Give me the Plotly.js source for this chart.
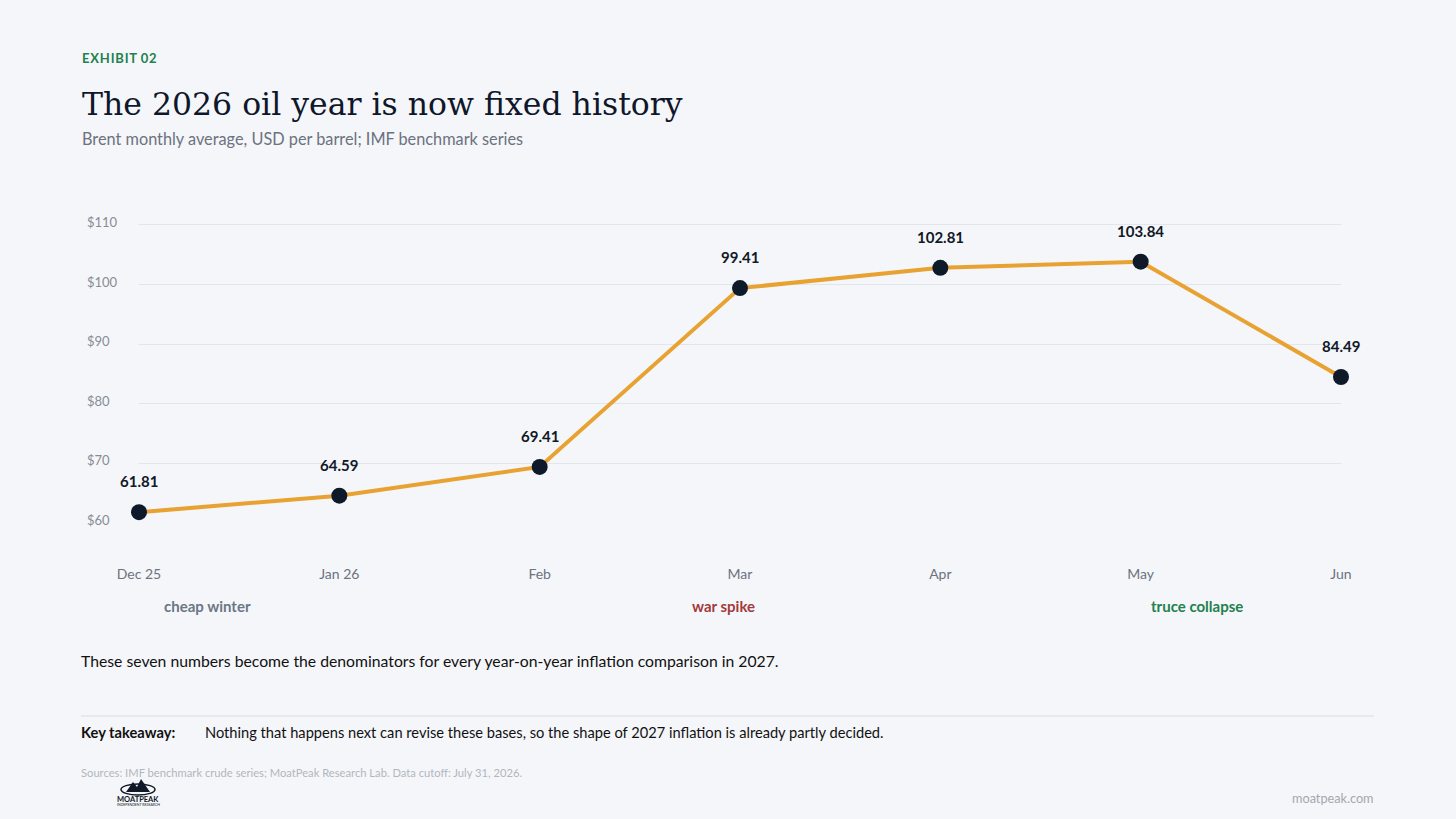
<!DOCTYPE html>
<html>
<head>
<meta charset="utf-8">
<script src="https://cdn.plot.ly/plotly-3.0.1.min.js"></script>
<style>
  html, body { margin: 0; padding: 0; background: #f5f6f9; }
  #chart { width: 1456px; height: 819px; }
</style>
</head>
<body>
<div id="chart"></div>
<script>
// Brent monthly averages, USD per barrel
const months = ["Dec 25", "Jan 26", "Feb", "Mar", "Apr", "May", "Jun"];
const brent = [61.81, 64.59, 69.41, 99.41, 102.81, 103.84, 84.49];
const yTicks = [60, 70, 80, 90, 100, 110];

// Phase labels under the axis: text, position along the month axis, colour
const phaseText = ["cheap winter", "war spike", "truce collapse"];
const phaseAt = [0.34, 2.92, 5.28];
const phaseColor = ["#6b7785", "#a23b3b", "#23804f"];

const W = 1456, H = 819;
const M = { l: 139, r: 115, t: 222, b: 296 };
const PW = W - M.l - M.r, PH = H - M.t - M.b;
// pixel helpers for page furniture placed around the plot
const px = v => (v - M.l) / PW;
const py = v => (H - M.b - v) / PH;

const SANS = "Lato, 'Open Sans', sans-serif";
const SERIF = "'DejaVu Serif', 'Liberation Serif', serif";

const trace = {
  type: "scatter",
  mode: "lines+markers",
  x: months.map((_, i) => i),
  y: brent,
  line: { color: "#e8a232", width: 4 },
  marker: { color: "#0e1a2a", size: 16 },
  cliponaxis: false,
  hoverinfo: "skip"
};

const annotations = [];

// value labels above each point
brent.forEach((v, i) => {
  annotations.push({
    x: i, y: v, xref: "x", yref: "y",
    text: v.toFixed(2), showarrow: false,
    yshift: 31, xanchor: "center", yanchor: "middle",
    font: { family: SANS, size: 15, color: "#111827", weight: 700 }
  });
});

// left-aligned y tick labels
yTicks.forEach(t => {
  annotations.push({
    x: px(85), y: t, xref: "paper", yref: "y",
    text: "$" + t, showarrow: false, yshift: 3,
    xanchor: "left", yanchor: "middle",
    font: { family: SANS, size: 13, color: "#878d96" }
  });
});

// phase labels
phaseText.forEach((t, i) => {
  annotations.push({
    x: phaseAt[i], y: py(606), xref: "x", yref: "paper",
    text: t, showarrow: false, xanchor: "center", yanchor: "middle",
    font: { family: SANS, size: 15, color: phaseColor[i], weight: 700 }
  });
});

// header and footer text
const textBlocks = [
  { x: 80, y: 58, text: "E X H I B I T  0 2".replace(/ (?! )/g, "\u200A"), size: 13, color: "#23804f", weight: 700 },
  { x: 80, y: 138, text: "Brent monthly average, USD per barrel; IMF benchmark series", size: 16.3, color: "#6b7280" },
  { x: 79, y: 660, text: "These seven numbers become the denominators for every year-on-year inflation comparison in 2027.", size: 15.75, color: "#111111" },
  { x: 79, y: 732, text: "Key takeaway:", size: 14.7, color: "#111111", weight: 700 },
  { x: 203, y: 732, text: "Nothing that happens next can revise these bases, so the shape of 2027 inflation is already partly decided.", size: 14.65, color: "#111111" },
  { x: 79, y: 772, text: "Sources: IMF benchmark crude series; MoatPeak Research Lab. Data cutoff: July 31, 2026.", size: 11.2, color: "#b1b6be" },
  { x: 138, y: 799, text: "MOATPEAK", size: 7.5, color: "#111827", weight: 700, anchor: "center" },
  { x: 138, y: 805, text: "INDEPENDENT RESEARCH", size: 3.5, color: "#111827", anchor: "center" },
  { x: 1376, y: 798, text: "moatpeak.com", size: 12.7, color: "#a3a8b0", anchor: "right" }
];
textBlocks.forEach(b => {
  annotations.push({
    x: px(b.x), y: py(b.y), xref: "paper", yref: "paper",
    text: b.text, showarrow: false,
    xanchor: b.anchor || "left", yanchor: "middle",
    font: { family: SANS, size: b.size, color: b.color, weight: b.weight || 400 }
  });
});

// small mountain logo mark above the wordmark
const logoPath = (() => {
  const pts = [[126, 792], [133, 782], [137, 787], [141, 779], [150, 792]];
  return "M " + pts.map(p => px(p[0]) + "," + py(p[1])).join(" L ") + " Z";
})();

const shapes = [
  // separator above the takeaway
  { type: "line", xref: "paper", yref: "paper", x0: px(81), x1: px(1374), y0: py(716), y1: py(716),
    line: { color: "#d9dce1", width: 1 } },
  { type: "path", xref: "paper", yref: "paper", path: logoPath,
    fillcolor: "#111827", line: { width: 0 } },
  { type: "circle", xref: "paper", yref: "paper", x0: px(121), x1: px(155), y0: py(795), y1: py(784),
    fillcolor: "rgba(0,0,0,0)", line: { color: "#111827", width: 1.5 } }
];

const layout = {
  width: W, height: H,
  margin: M,
  paper_bgcolor: "#f5f6f9",
  plot_bgcolor: "#f5f6f9",
  showlegend: false,
  title: {
    text: "The 2026 oil year is now fixed history",
    xref: "container", yref: "container",
    x: 82 / W, xanchor: "left",
    y: 1 - 104 / H, yanchor: "middle",
    font: { family: SERIF, size: 31.5, color: "#0f172a" }
  },
  xaxis: {
    range: [0, 6],
    tickvals: months.map((_, i) => i),
    ticktext: months,
    showgrid: false, zeroline: false, showline: false,
    ticks: "", ticklabelstandoff: 41,
    tickfont: { family: SANS, size: 14, color: "#6b7280" },
    fixedrange: true
  },
  yaxis: {
    range: [60, 110.5],
    tickvals: yTicks,
    showticklabels: false,
    showgrid: true, gridcolor: "#e2e5ea", gridwidth: 1,
    zeroline: false, showline: false,
    fixedrange: true
  },
  annotations: annotations,
  shapes: shapes
};

Plotly.newPlot("chart", [trace], layout, { displayModeBar: false, staticPlot: true });
</script>
</body>
</html>
